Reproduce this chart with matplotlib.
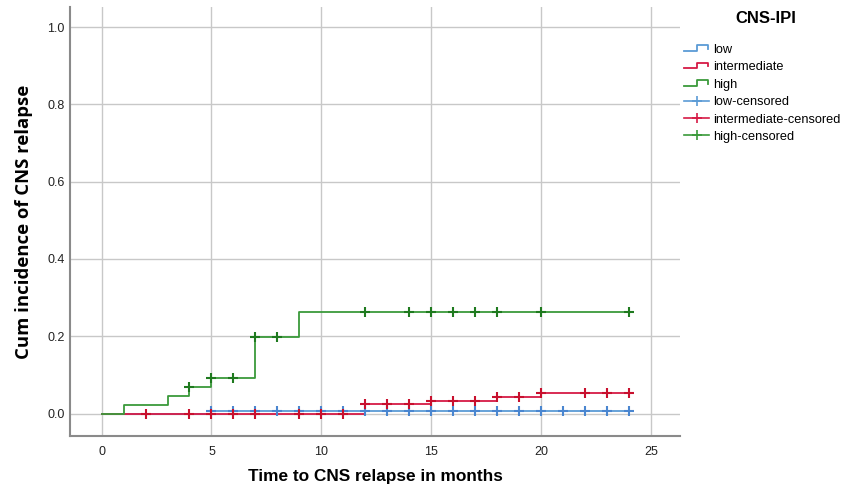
import numpy as np
import matplotlib
matplotlib.use('Agg')
import matplotlib.pyplot as plt
from matplotlib.lines import Line2D
from matplotlib.legend_handler import HandlerBase

# step curves (time, cumulative incidence after step)
low_t = [0, 5, 24.1]
low_y = [0.0, 0.006, 0.006]
inter_t = [0, 12, 15, 18, 20, 24.1]
inter_y = [0.0, 0.024, 0.032, 0.042, 0.052, 0.052]
high_t = [0, 1, 3, 4, 5, 7, 9, 24.1]
high_y = [0.0, 0.022, 0.045, 0.068, 0.092, 0.198, 0.262, 0.262]

# censored times
low_cens = [5, 6, 7, 8, 9, 10, 11, 12, 13, 14, 15, 16, 17, 18, 19, 20, 21, 22, 23, 24]
inter_cens = [2, 4, 5, 6, 7, 9, 10, 11, 12, 13, 14, 15, 16, 17, 18, 19, 20, 22, 23, 24]
high_cens = [4, 5, 6, 7, 8, 12, 14, 15, 16, 17, 18, 20, 24]

x_ticks = [0, 5, 10, 15, 20, 25]
y_ticks = [0.0, 0.2, 0.4, 0.6, 0.8, 1.0]


def level_at(t_steps, y_steps, times):
    idx = np.searchsorted(t_steps, times, side='right') - 1
    return np.array(y_steps)[idx]


class StepHandler(HandlerBase):
    def create_artists(self, legend, orig_handle, xdescent, ydescent,
                       width, height, fontsize, trans):
        xs = np.array([0.0, 0.5, 0.5, 0.95, 0.95]) * width - xdescent
        ys = np.array([0.25, 0.25, 0.85, 0.85, 0.45]) * height - ydescent
        ln = Line2D(xs, ys, color=orig_handle.get_color(), lw=1.3, transform=trans)
        return [ln]


plt.rcParams['font.family'] = ['Liberation Sans', 'DejaVu Sans']

fig = plt.figure(figsize=(8.58, 4.9), dpi=100)
ax = fig.add_axes([0.0816, 0.1102, 0.7109, 0.8755])

c_low = '#5b9bd5'
c_int = '#d61a45'
c_high = '#3a9a3a'
m_low = '#4a86d0'
m_int = '#c8102e'
m_high = '#1f7a1f'

series = [
    ('low', low_t, low_y, low_cens, c_low, m_low),
    ('intermediate', inter_t, inter_y, inter_cens, c_int, m_int),
    ('high', high_t, high_y, high_cens, c_high, m_high),
]

line_handles = []
cens_handles = []
for name, t, y, cens, c, mc in series:
    ln, = ax.step(t, y, where='post', color=c, lw=1.3, zorder=3)
    line_handles.append(ln)
for name, t, y, cens, c, mc in series:
    cy = level_at(t, y, cens)
    ax.plot(cens, cy, ls='none', marker='+', ms=6.5, mew=1.5, color=mc, zorder=4)
    cens_handles.append(Line2D([], [], color=c, marker='+', ms=7, mew=1.2, lw=1.2,
                               markeredgecolor=c))

ax.set_xlim(-1.44, 26.33)
ax.set_ylim(-0.058, 1.052)
ax.set_xticks(x_ticks)
ax.set_yticks(y_ticks)
ax.set_yticklabels(['%.1f' % v for v in y_ticks])
ax.grid(True, color='#c8c8c8', lw=1.0)
ax.set_axisbelow(True)
for s in ['top', 'right']:
    ax.spines[s].set_visible(False)
for s in ['left', 'bottom']:
    ax.spines[s].set_color('#8a8a8a')
    ax.spines[s].set_linewidth(1.5)
ax.tick_params(length=0, labelsize=9, colors='#222222')
ax.tick_params(axis='x', pad=7)
ax.tick_params(axis='y', pad=4)

ax.set_xlabel('Time to CNS relapse in months', fontsize=12.4, fontweight='bold',
              labelpad=8)
ax.set_ylabel('Cum incidence of CNS relapse', fontsize=13.3, fontweight='bold',
              labelpad=10, family=['Open Sans', 'DejaVu Sans'])

labels = ['low', 'intermediate', 'high', 'low-censored',
          'intermediate-censored', 'high-censored']
fig.text(0.893, 0.963, 'CNS-IPI', fontsize=12, fontweight='bold',
         ha='center', va='center')
leg = fig.legend(line_handles + cens_handles, labels,
                 handler_map={h: StepHandler() for h in line_handles},
                 loc='upper left', bbox_to_anchor=(0.797, 0.91),
                 frameon=False, fontsize=9.2,
                 handlelength=2.0, handletextpad=0.3, labelspacing=0.42,
                 borderaxespad=0, borderpad=0)

fig.savefig('out.png', dpi=100)
